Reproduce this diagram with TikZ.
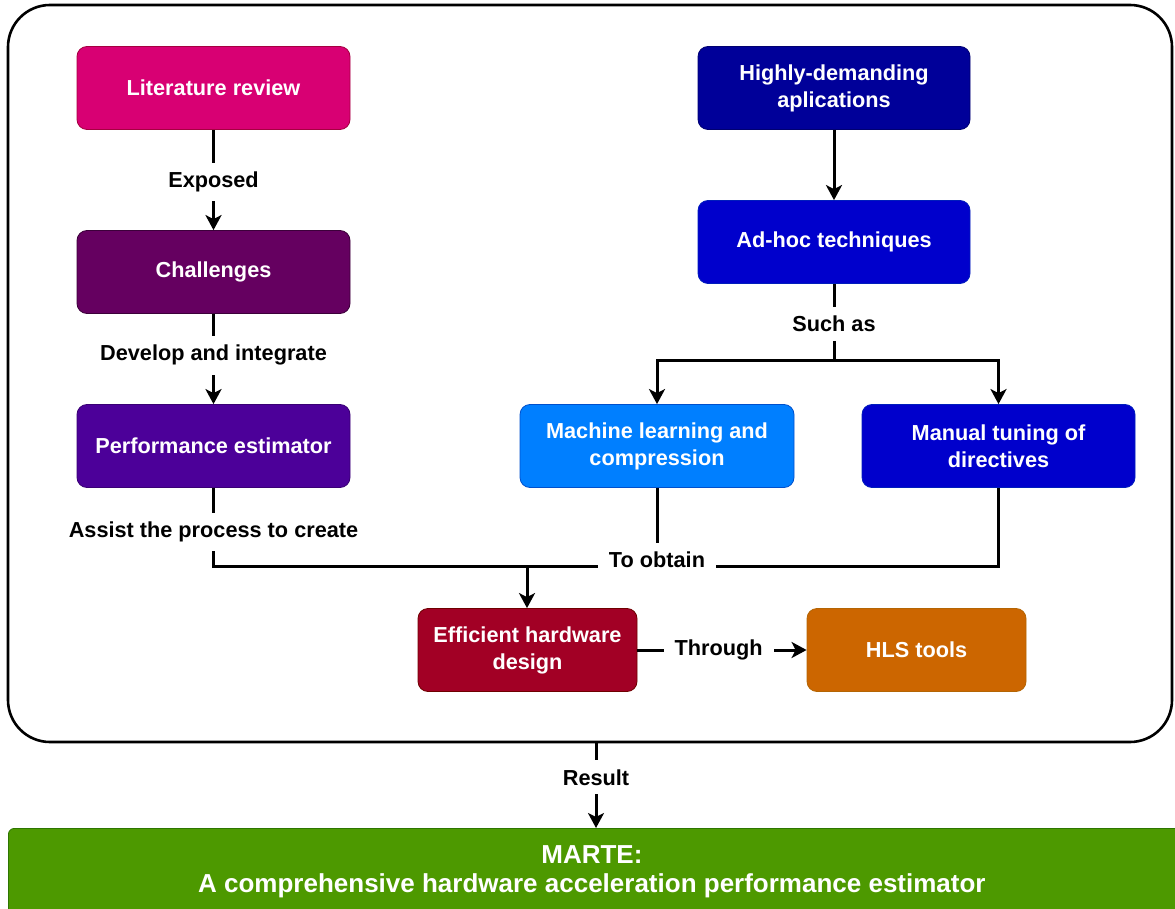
\documentclass[tikz,border=0pt]{standalone}
\usepackage{fontspec}
\setmainfont{Liberation Sans}
\usetikzlibrary{arrows.meta}

\definecolor{cPink}{HTML}{D80073}
\definecolor{cPinkS}{HTML}{A50040}
\definecolor{cPlum}{HTML}{650060}
\definecolor{cPlumS}{HTML}{3C003A}
\definecolor{cViolet}{HTML}{4C0099}
\definecolor{cVioletS}{HTML}{3A0075}
\definecolor{cNavy}{HTML}{000099}
\definecolor{cNavyS}{HTML}{000070}
\definecolor{cBlue}{HTML}{0000CC}
\definecolor{cBlueS}{HTML}{001DBC}
\definecolor{cSky}{HTML}{007FFF}
\definecolor{cSkyS}{HTML}{0050CC}
\definecolor{cCrimson}{HTML}{A20025}
\definecolor{cCrimsonS}{HTML}{6F0000}
\definecolor{cOrange}{HTML}{CC6600}
\definecolor{cOrangeS}{HTML}{B46504}
\definecolor{cGreen}{HTML}{4D9900}
\definecolor{cGreenS}{HTML}{2D7600}

\tikzset{
  box/.style={rectangle, rounded corners=10pt, draw=#1S, fill=#1, line width=0.8pt,
    text=white, align=center, minimum width=273pt, minimum height=83pt,
    inner sep=0pt, font=\fontsize{21.7pt}{27pt}\selectfont\bfseries},
  lbl/.style={fill=white, inner xsep=11pt, inner ysep=9pt,
    font=\fontsize{21.7pt}{26pt}\selectfont\bfseries},
  link/.style={line width=3pt},
  arr/.style={line width=3pt, -{Stealth[length=15pt, width=16pt, inset=4pt]}},
}

\begin{document}
\begin{tikzpicture}[x=1pt, y=-1pt]
\useasboundingbox (0,0) rectangle (1175,909);
\clip (0,0) rectangle (1175,909);

% outer frame
\draw[line width=2.6pt, rounded corners=42pt] (8,5) rectangle (1172,742);
\coordinate (frameb) at (596,742);

% left column
\node[box=cPink]   (lit)  at (213.5,88)  {Literature review};
\node[box=cPlum]   (chal) at (213.5,272) {Challenges};
\node[box=cViolet] (perf) at (213.5,446) {Performance estimator};

% right column
\node[box=cNavy, minimum width=272pt] (high)  at (834,88)  {Highly-demanding\\aplications};
\node[box=cBlue, minimum width=272pt] (adhoc) at (834,242) {Ad-hoc techniques};
\node[box=cSky, minimum width=274pt]  (ml)    at (657,446) {Machine learning and\\compression};
\node[box=cBlue]                      (man)   at (998.5,446) {Manual tuning of\\directives};

% bottom row
\node[box=cCrimson, minimum width=219pt] (eff) at (527.5,650) {Efficient hardware\\design};
\node[box=cOrange,  minimum width=219pt] (hls) at (916.5,650) {HLS tools};

% result
\node[rectangle, rounded corners=6pt, draw=cGreenS, fill=cGreen, line width=0.8pt,
  text=white, align=center, minimum width=1180pt, minimum height=86pt, inner sep=0pt,
  anchor=north west, font=\fontsize{26pt}{29pt}\selectfont\bfseries] (marte) at (8,828)
  {\hspace*{-13pt}MARTE:\\\hspace*{-13pt}A comprehensive hardware acceleration performance estimator};
\coordinate (martet) at (596,828);

% junction points
\coordinate (join)  at (527,566);
\coordinate (split) at (834,360);

% connectors
\draw[arr] (lit) -- node[lbl, pos=0.52]{Exposed} (chal);
\draw[arr] (chal) -- node[lbl, pos=0.46]{Develop and integrate} (perf);
\draw[link] (perf.south) -- node[lbl, pos=0.56]{Assist the process to create} (213.5,566) -- (join);
\draw[link] (ml.south) |- (join);
\draw[link] (man.south) |- (join);
\draw[arr] (join) -- (eff.north -| join);
\node[lbl] (obtain) at (657,560) {To obtain};

\draw[arr] (high) -- (adhoc);
\draw[link] (adhoc.south) -- node[lbl, pos=0.53]{Such as} (split);
\draw[arr] (split) -| (ml.north);
\draw[arr] (split) -| (man.north);

\draw[arr] (eff.east) -- node[lbl, pos=0.48]{Through} (hls.west);
\draw[arr] (frameb) -- node[lbl, pos=0.41]{Result} (martet);
\end{tikzpicture}
\end{document}
